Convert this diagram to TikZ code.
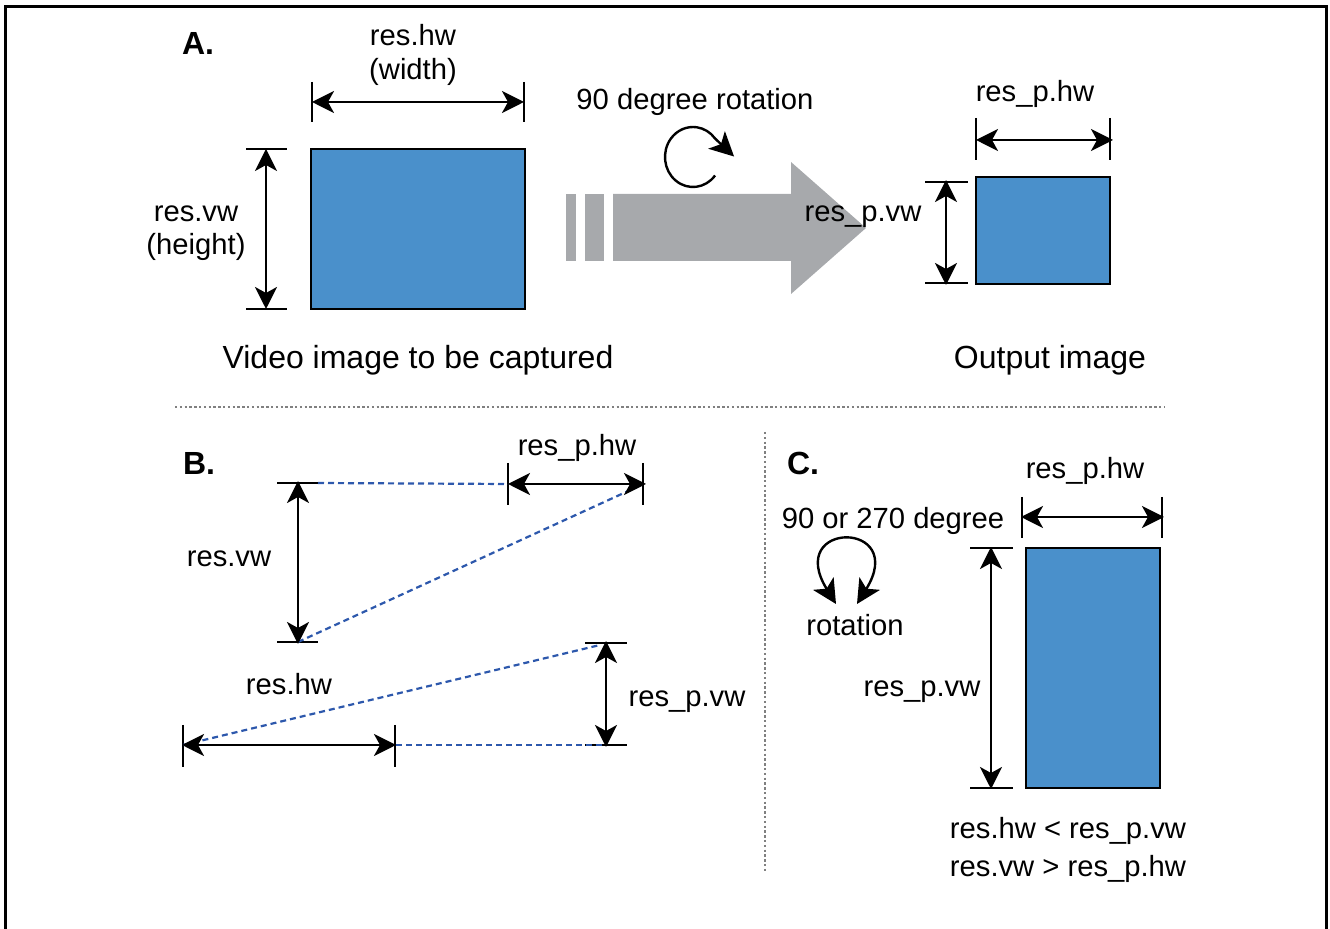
\documentclass[tikz,border=0pt]{standalone}
\usepackage{fontspec}
\setmainfont{Liberation Sans}
\usetikzlibrary{arrows.meta,calc}
\definecolor{imgblue}{RGB}{74,144,203}
\definecolor{dotblue}{RGB}{45,88,172}
\definecolor{arrgray}{RGB}{167,169,172}
\tikzstyle{lbl}=[inner sep=0pt, anchor=base, font=\fontsize{14.6}{17}\selectfont]
\tikzstyle{captxt}=[inner sep=0pt, anchor=base, font=\fontsize{16}{19}\selectfont]
\tikzstyle{hdr}=[inner sep=0pt, anchor=base, font=\fontsize{16}{19}\selectfont\bfseries]
\tikzstyle{img}=[draw=black, fill=imgblue, line width=1pt, inner sep=0pt]
\tikzstyle{dim}=[line width=1.2pt, {Stealth[length=11pt,width=11pt,inset=3pt]}-{Stealth[length=11pt,width=11pt,inset=3pt]}]
\tikzstyle{dimtick}=[line width=1.2pt]
\tikzstyle{l1}=[line width=1.1pt, dotblue, dash pattern=on 3pt off 2pt]
\tikzstyle{sepline}=[line width=1pt, black!50, dash pattern=on 1.2pt off 1.2pt]
\tikzstyle{rotarr}=[line width=1.2pt, -{Stealth[length=12pt,width=12pt,inset=3pt]}]
\begin{document}
\begin{tikzpicture}[x=0.5pt, y=-0.5pt]
    \useasboundingbox (0,0) rectangle (1330,929);
    \draw[line width=1.5pt] (5,929) -- (5,7) -- (1326,7) -- (1326,929);

    % A.
    \node[hdr] at (198,55) (A) {A.};
    \node[img, minimum width=107pt, minimum height=80pt] at (418,229) (imgA) {};
    \node[lbl] at (413,46) (hwA) {res.hw};
    \node[lbl] at (413,80) (widA) {(width)};
    \node[lbl] at (196,222) (vwA) {res.vw};
    \node[lbl] at (196,255) (heiA) {(height)};
    \node[captxt] at (418,369) (capA) {Video image to be captured};
    \coordinate (hA1) at (312,102);
    \coordinate (hA2) at (524,102);
    \coordinate (vA1) at (266,149);
    \coordinate (vA2) at (266,309);
    \draw[dimtick] (hA1) ++(0,-20) -- ++(0,40);
    \draw[dimtick] (hA2) ++(0,-20) -- ++(0,40);
    \draw[dimtick] (vA1) ++(-20,0) -- ++(41,0);
    \draw[dimtick] (vA2) ++(-20,0) -- ++(41,0);
    \draw[dim] (hA1) -- (hA2);
    \draw[dim] (vA1) -- (vA2);

    \fill[arrgray] (566,194) rectangle (576,261);
    \fill[arrgray] (585,194) rectangle (604,261);
    \fill[arrgray] (613,194) -- (791,194) -- (791,162) -- (866,228) -- (791,294) -- (791,261) -- (613,261) -- cycle;
    \node[lbl] at (695,110) (rotA) {90 degree rotation};
    \draw[rotarr] (693,157) ++(38:28 and 30) arc[start angle=38, end angle=322, x radius=28, y radius=30] -- ++(19,18);

    \node[img, minimum width=67pt, minimum height=53.5pt] at (1043,230.5) (imgO) {};
    \node[lbl] at (1035,102) (phwO) {res\_p.hw};
    \node[lbl] at (863,222) (pvwO) {res\_p.vw};
    \node[captxt] at (1050,369) (capO) {Output image};
    \coordinate (hO1) at (976,140);
    \coordinate (hO2) at (1113,140);
    \coordinate (vO1) at (946,180);
    \coordinate (vO2) at (946,285);
    \draw[dimtick] (976,118) -- (976,160);
    \draw[dimtick] (1110,118) -- (1110,160);
    \draw[dimtick] (925,182) -- (968,182);
    \draw[dimtick] (925,283) -- (968,283);
    \draw[dim] (hO1) -- (hO2);
    \draw[dim] (vO1) -- (vO2);

    \draw[sepline] (175,407) -- (1165,407);
    \draw[sepline] (765,432) -- (765,872);

    % B.
    \node[hdr] at (199,475) (B) {B.};
    \node[lbl] at (577,456) (phwB) {res\_p.hw};
    \node[lbl] at (229,567) (vwB) {res.vw};
    \node[lbl] at (289,695) (hwB) {res.hw};
    \node[lbl] at (687,707) (pvwB) {res\_p.vw};
    \coordinate (hB1) at (508,484);
    \coordinate (hB2) at (646,484);
    \coordinate (vB1) at (298,481);
    \coordinate (vB2) at (298,644);
    \coordinate (hB3) at (182,745);
    \coordinate (hB4) at (396,745);
    \coordinate (vB3) at (606,641);
    \coordinate (vB4) at (606,747);
    \draw[dimtick] (508,463) -- (508,505);
    \draw[dimtick] (643,463) -- (643,505);
    \draw[dimtick] (277,483) -- (318,483);
    \draw[dimtick] (277,642) -- (318,642);
    \draw[dimtick] (183,725) -- (183,767);
    \draw[dimtick] (395,725) -- (395,767);
    \draw[dimtick] (585,643) -- (627,643);
    \draw[dimtick] (585,745) -- (627,745);
    \draw[l1] (318,483) -- (hB1);
    \draw[l1] (298,642) -- (637,487);
    \draw[l1] (hB4) -- (606,745);
    \draw[l1] (183,745) -- (600,645);
    \draw[dim] (hB1) -- (hB2);
    \draw[dim] (vB1) -- (vB2);
    \draw[dim] (hB3) -- (hB4);
    \draw[dim] (vB3) -- (vB4);

    % C.
    \node[hdr] at (803,475) (C) {C.};
    \node[img, minimum width=67pt, minimum height=120pt] at (1093,668) (imgC) {};
    \node[lbl] at (1085,479) (phwC) {res\_p.hw};
    \node[lbl] at (893,529) (degC) {90 or 270 degree};
    \node[lbl] at (855,636) (rotC) {rotation};
    \node[lbl] at (922,697) (pvwC) {res\_p.vw};
    \node[lbl] at (1068,839) (eq1) {res.hw < res\_p.vw};
    \node[lbl] at (1068,877) (eq2) {res.vw > res\_p.hw};
    \coordinate (hC1) at (1021,517);
    \coordinate (hC2) at (1164,517);
    \coordinate (vC1) at (991,547);
    \coordinate (vC2) at (991,789);
    \draw[dimtick] (1022,497) -- (1022,538);
    \draw[dimtick] (1162,497) -- (1162,538);
    \draw[dimtick] (970,548) -- (1013,548);
    \draw[dimtick] (970,788) -- (1013,788);
    \draw[dim] (hC1) -- (hC2);
    \draw[dim] (vC1) -- (vC2);
    \draw[rotarr, {Stealth[length=12pt,width=12pt,inset=3pt]}-{Stealth[length=12pt,width=12pt,inset=3pt]}] (836,604) .. controls (784,520) and (909,520) .. (857,604);
\end{tikzpicture}
\end{document}
